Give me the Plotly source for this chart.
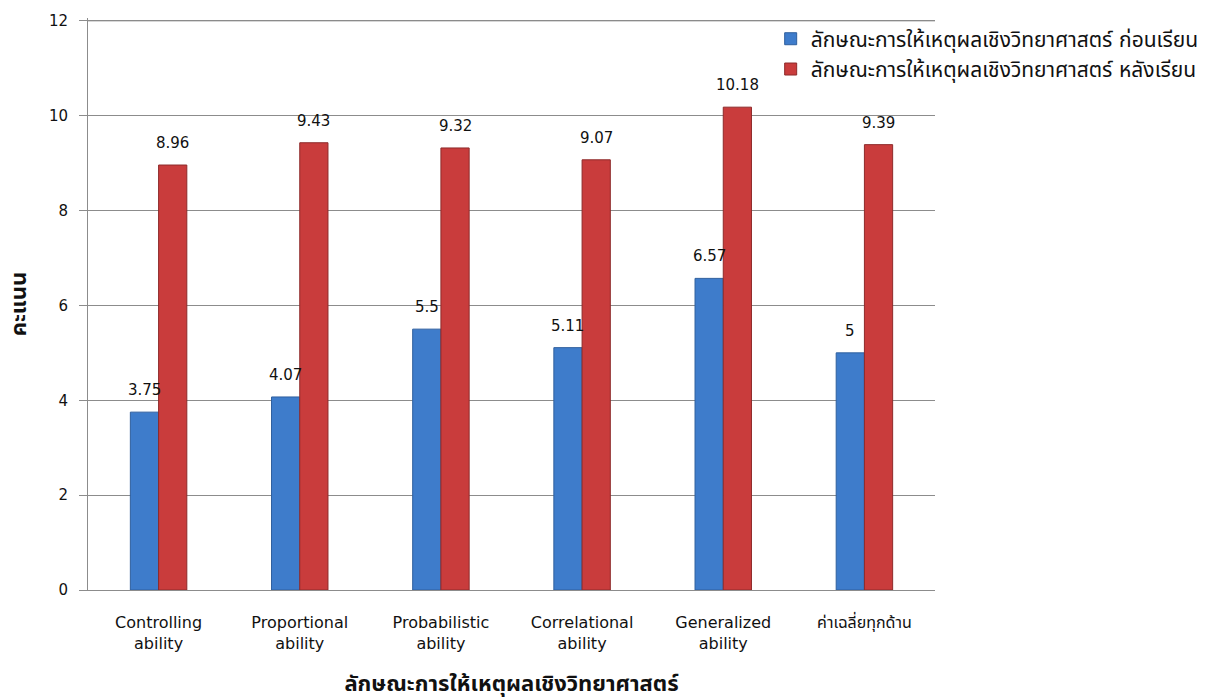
import plotly.graph_objects as go

categories = [
    "Controlling<br>ability",
    "Proportional<br>ability",
    "Probabilistic<br>ability",
    "Correlational<br>ability",
    "Generalized<br>ability",
    "ค่าเฉลี่ยทุกด้าน",
]
before_scores = [3.75, 4.07, 5.5, 5.11, 6.57, 5]
after_scores = [8.96, 9.43, 9.32, 9.07, 10.18, 9.39]
series_names = [
    "ลักษณะการให้เหตุผลเชิงวิทยาศาสตร์ ก่อนเรียน",
    "ลักษณะการให้เหตุผลเชิงวิทยาศาสตร์ หลังเรียน",
]
y_ticks = [0, 2, 4, 6, 8, 10, 12]

FONT = "Tahoma, 'DejaVu Sans', 'Noto Sans Thai', sans-serif"
BLUE = "#3E7CCB"
RED = "#C93C3C"
GRID = "#8c8c8c"

fig = go.Figure()
fig.add_trace(go.Bar(
    x=list(range(len(categories))), y=before_scores, name=series_names[0],
    marker=dict(color=BLUE, line=dict(color="#2F5F9E", width=1)),
))
fig.add_trace(go.Bar(
    x=list(range(len(categories))), y=after_scores, name=series_names[1],
    marker=dict(color=RED, line=dict(color="#8E2A2A", width=1)),
))

# value labels centred over each bar
bar_offset = 0.1
for i, v in enumerate(before_scores):
    fig.add_annotation(x=i - bar_offset, y=v, text=f"{v:g}", showarrow=False,
                       yanchor="bottom", yshift=11,
                       font=dict(family=FONT, size=15, color="#111"))
for i, v in enumerate(after_scores):
    fig.add_annotation(x=i + bar_offset, y=v, text=f"{v:g}", showarrow=False,
                       yanchor="bottom", yshift=11,
                       font=dict(family=FONT, size=15, color="#111"))

# top gridline at the last tick (sits on the plot edge)
fig.add_shape(type="line", xref="paper", yref="y", x0=0, x1=1,
              y0=y_ticks[-1], y1=y_ticks[-1], line=dict(color=GRID, width=1))

fig.update_layout(
    width=1216, height=697,
    margin=dict(l=88, r=281, t=14, b=107),
    paper_bgcolor="white", plot_bgcolor="white",
    barmode="group", bargap=0.6, bargroupgap=0,
    font=dict(family=FONT, size=15, color="#111"),
    legend=dict(
        x=0.806, y=0.999, xanchor="left", yanchor="top",
        bgcolor="rgba(0,0,0,0)", font=dict(family=FONT, size=21, color="#111"),
        itemwidth=30, tracegroupgap=17,
    ),
    xaxis=dict(
        tickmode="array", tickvals=list(range(len(categories))), ticktext=categories,
        range=[-0.5, len(categories) - 0.5],
        showline=True, linecolor=GRID, linewidth=1,
        showgrid=False, ticks="", ticklabelstandoff=18, automargin=False,
        tickfont=dict(family=FONT, size=16, color="#111"),
        title=dict(text="<b>ลักษณะการให้เหตุผลเชิงวิทยาศาสตร์</b>",
                   font=dict(family=FONT, size=22, color="#111"), standoff=26),
    ),
    yaxis=dict(
        range=[0, 12.06], tickvals=y_ticks,
        showline=True, linecolor=GRID, linewidth=1,
        showgrid=True, gridcolor=GRID, gridwidth=1,
        ticks="outside", ticklen=8, tickcolor=GRID, ticklabelstandoff=8,
        tickfont=dict(family=FONT, size=15, color="#111"),
        title=dict(text="<b>คะแนน</b>", font=dict(family=FONT, size=22, color="#111"),
                   standoff=16),
        zeroline=False,
    ),
)

fig.write_html("out.html")
